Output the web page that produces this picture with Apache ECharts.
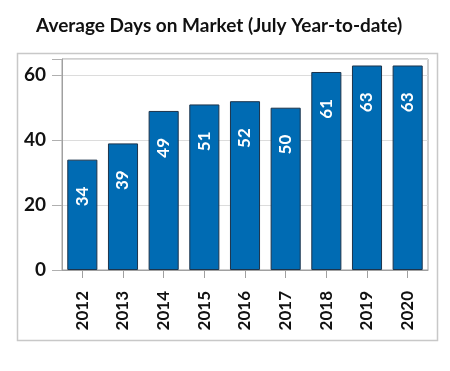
<!DOCTYPE html>
<html>
<head>
<meta charset="utf-8">
<script src="https://cdn.jsdelivr.net/npm/echarts@6/dist/echarts.min.js"></script>
<style>html,body{margin:0;padding:0;background:#fff}#c{width:450px;height:371px}</style>
</head>
<body>
<div id="c"></div>
<script>
const titleText = 'Average Days on Market (July Year-to-date)';
const years = ['2012','2013','2014','2015','2016','2017','2018','2019','2020'];
const days = [34, 39, 49, 51, 52, 50, 61, 63, 63];
const yTicks = [0, 20, 40, 60];

const chart = echarts.init(document.getElementById('c'), null, {renderer: 'canvas'});
chart.setOption({
  animation: false,
  title: {
    text: titleText, left: 31, top: 11,
    textStyle: {fontFamily: 'Lato', fontWeight: 'bold', fontSize: 19, color: '#111'}
  },
  graphic: [{
    type: 'rect', left: 15, top: 51, silent: true,
    shape: {width: 420, height: 287},
    style: {fill: 'none', stroke: '#c8c8c8', lineWidth: 1.5}
  }],
  grid: {left: 62, right: 22, top: 59, bottom: 101, show: true, borderColor: '#a0a0a0', borderWidth: 1},
  xAxis: {
    type: 'category', data: years,
    axisLine: {lineStyle: {color: '#a0a0a0'}},
    axisTick: {show: true, alignWithLabel: true, length: 8, lineStyle: {color: '#a0a0a0'}},
    axisLabel: {rotate: 90, margin: 21, fontFamily: 'Lato', fontWeight: 'bold', fontSize: 17, color: '#111'}
  },
  yAxis: {
    type: 'value', min: 0, max: 65, interval: 20,
    axisLine: {show: true, lineStyle: {color: '#a0a0a0'}},
    axisTick: {show: true, length: 10, lineStyle: {color: '#b0b0b0'}},
    splitLine: {lineStyle: {color: '#dcdcdc'}},
    axisLabel: {margin: 16, fontFamily: 'Lato', fontWeight: 'bold', fontSize: 19, color: '#111',
      formatter: v => yTicks.includes(v) ? String(v) : ''}
  },
  series: [{
    type: 'bar', data: days, barCategoryGap: '26%',
    itemStyle: {color: '#006bb3', borderColor: '#1c344c', borderWidth: 1},
    label: {
      show: true, position: 'insideTop', distance: 27, rotate: 90,
      align: 'right', verticalAlign: 'middle',
      fontFamily: 'Lato', fontWeight: 'bold', fontSize: 17, color: '#fff'
    }
  }]
});
</script>
</body>
</html>
